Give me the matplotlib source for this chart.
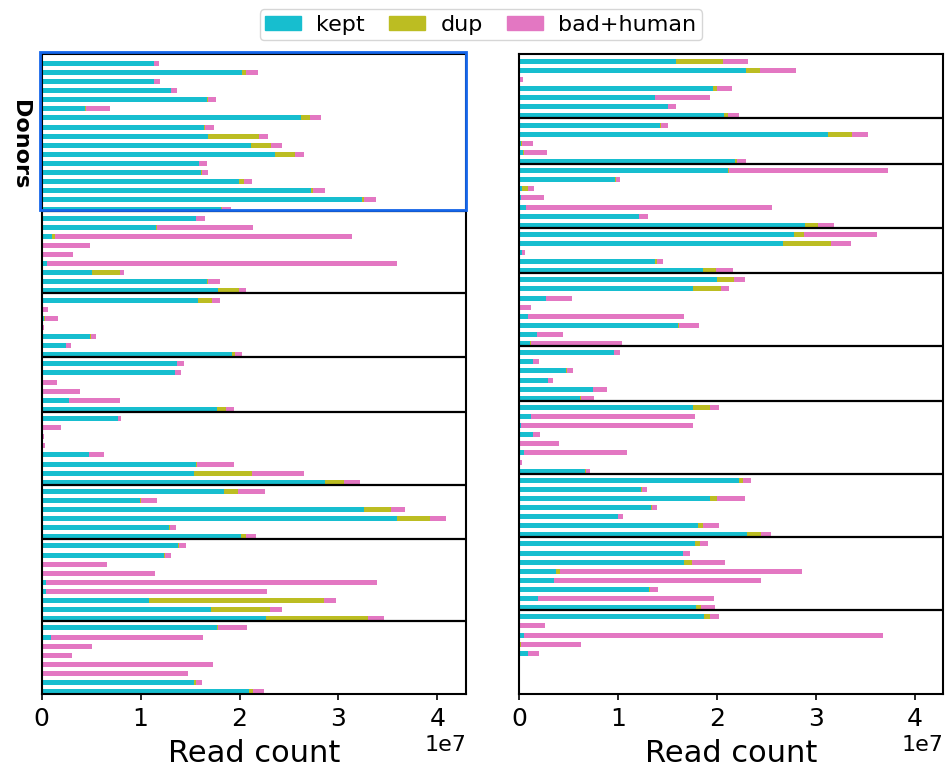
import numpy as np
import matplotlib
matplotlib.use("Agg")
import matplotlib.pyplot as plt
from matplotlib.patches import Rectangle, Patch
import matplotlib.transforms as mtransforms

# ---------------- data (values in units of 1e7 reads) ----------------
left_kept = [1.137, 2.027, 1.137, 1.312, 1.673, 0.442, 2.624, 1.642, 1.683, 2.118,
             2.361, 1.592, 1.612, 1.997, 2.725, 3.241, 1.815,
             1.562, 1.157, 0.105, 0.0, 0.0, 0.054, 0.509, 1.673, 1.784,
             1.582, 0.0, 0.020, 0.013, 0.489, 0.246, 1.926,
             1.369, 1.349, 0.0, 0.0, 0.277, 1.774,
             0.772, 0.013, 0.0, 0.0, 0.479, 1.562, 1.541, 2.867,
             1.845, 0.995, 3.261, 3.595, 1.292, 2.017,
             1.379, 1.238, 0.0, 0.0, 0.044, 0.044, 1.086, 1.713, 2.270,
             1.774, 0.094, 0.0, 0.0, 0.013, 0.013, 1.541, 2.098]
left_dup = [0.0, 0.040, 0.0, 0.0, 0.010, 0.010, 0.091, 0.011, 0.516, 0.202,
            0.202, 0.0, 0.010, 0.050, 0.020, 0.020, 0.010,
            0.0, 0.010, 0.030, 0.0, 0.0, 0.0, 0.284, 0.010, 0.213,
            0.141, 0.0, 0.010, 0.0, 0.010, 0.0, 0.030,
            0.0, 0.0, 0.0, 0.0, 0.0, 0.091,
            0.0, 0.0, 0.0, 0.0, 0.0, 0.010, 0.587, 0.192,
            0.142, 0.010, 0.274, 0.334, 0.006, 0.050,
            0.011, 0.010, 0.0, 0.0, 0.0, 0.0, 1.771, 0.597, 1.032,
            0.007, 0.0, 0.0, 0.0, 0.0, 0.0, 0.021, 0.040]
left_bad = [0.050, 0.122, 0.060, 0.057, 0.081, 0.239, 0.111, 0.091, 0.091, 0.112,
            0.091, 0.081, 0.061, 0.081, 0.122, 0.122, 0.091,
            0.091, 0.971, 3.005, 0.489, 0.317, 3.541, 0.040, 0.121, 0.070,
            0.081, 0.064, 0.135, 0.011, 0.051, 0.051, 0.071,
            0.071, 0.061, 0.155, 0.388, 0.516, 0.081,
            0.031, 0.183, 0.024, 0.034, 0.152, 0.374, 0.526, 0.162,
            0.273, 0.162, 0.141, 0.162, 0.061, 0.102,
            0.070, 0.061, 0.661, 1.147, 3.349, 2.236, 0.121, 0.122, 0.162,
            0.297, 1.538, 0.509, 0.307, 1.721, 1.468, 0.060, 0.112]
left_groups = [17, 9, 7, 6, 8, 6, 9, 8]

right_kept = [1.589, 2.297, 0.005, 1.963, 1.376, 1.508, 2.074,
              1.427, 3.126, 0.017, 0.040, 2.186,
              2.115, 0.971, 0.030, 0.017, 0.071, 1.214, 2.894,
              2.782, 2.671, 0.030, 1.376, 1.862,
              2.003, 1.761, 0.273, 0.007, 0.091, 1.609, 0.182, 0.111,
              0.961, 0.142, 0.476, 0.293, 0.749, 0.617,
              1.761, 0.121, 0.017, 0.142, 0.010, 0.051, 0.010, 0.668,
              2.226, 1.234, 1.933, 1.336, 1.002, 1.811, 2.307,
              1.781, 1.659, 1.669, 0.374, 0.354, 1.315, 0.192, 1.791,
              1.872, 0.010, 0.051, 0.010, 0.091]
right_dup = [0.475, 0.141, 0.0, 0.040, 0.0, 0.0, 0.041,
             0.006, 0.243, 0.013, 0.011, 0.016,
             0.006, 0.010, 0.061, 0.0, 0.0, 0.0, 0.131,
             0.102, 0.486, 0.0, 0.020, 0.131,
             0.172, 0.283, 0.0, 0.006, 0.0, 0.010, 0.0, 0.010,
             0.0, 0.0, 0.010, 0.0, 0.0, 0.010,
             0.172, 0.0, 0.0, 0.0, 0.0, 0.0, 0.0, 0.010,
             0.040, 0.011, 0.070, 0.010, 0.0, 0.051, 0.142,
             0.050, 0.0, 0.081, 0.041, 0.0, 0.010, 0.0, 0.050,
             0.061, 0.0, 0.0, 0.010, 0.0]
right_bad = [0.253, 0.365, 0.035, 0.152, 0.557, 0.081, 0.111,
             0.075, 0.162, 0.112, 0.232, 0.095,
             1.613, 0.041, 0.061, 0.236, 2.489, 0.091, 0.162,
             0.738, 0.202, 0.031, 0.061, 0.172,
             0.112, 0.081, 0.263, 0.108, 1.578, 0.202, 0.263, 0.921,
             0.061, 0.060, 0.060, 0.051, 0.141, 0.132,
             0.091, 1.660, 1.744, 0.070, 0.395, 1.042, 0.020, 0.040,
             0.081, 0.050, 0.284, 0.050, 0.050, 0.162, 0.101,
             0.081, 0.071, 0.334, 2.448, 2.095, 0.081, 1.781, 0.142,
             0.091, 0.253, 3.632, 0.607, 0.111]
right_groups = [7, 5, 7, 5, 8, 6, 8, 7, 8, 5]

series_labels = ["kept", "dup", "bad+human"]
x_ticks = [0, 1, 2, 3, 4]
highlight_label = "Donors"
highlight_rows = 17

# ---------------- style ----------------
C_KEPT, C_DUP, C_BAD = "#17becf", "#bcbd22", "#e377c2"
SCALE = 1e7
XMAX = 4.29e7
BAR_H = 0.55

fig = plt.figure(figsize=(9.52, 7.68), dpi=100)
axL = fig.add_axes([0.0438, 0.0964, 0.4457, 0.8329])
axR = fig.add_axes([0.5452, 0.0964, 0.4457, 0.8329])


def draw(ax, kept, dup, bad, groups, ylim):
    k = np.array(kept) * SCALE
    d = np.array(dup) * SCALE
    b = np.array(bad) * SCALE
    y = np.arange(len(k))
    ax.barh(y, k, height=BAR_H, color=C_KEPT, linewidth=0)
    ax.barh(y, d, left=k, height=BAR_H, color=C_DUP, linewidth=0)
    ax.barh(y, b, left=k + d, height=BAR_H, color=C_BAD, linewidth=0)
    for e in np.cumsum(groups)[:-1]:
        ax.axhline(e - 1 + 0.27, color="black", lw=1.6, zorder=3)
    ax.set_ylim(*ylim)
    ax.set_yticks([])
    ax.set_xlim(0, XMAX)
    ax.set_xticks([t * SCALE for t in x_ticks])
    ax.tick_params(axis="x", labelsize=18, length=4.5, width=1.2, color="black", pad=5)
    ax.xaxis.get_offset_text().set_fontsize(16)
    ax.set_xlabel("Read count", fontsize=22, labelpad=6)
    for s in ax.spines.values():
        s.set_color("black")
        s.set_linewidth(1.5)


draw(axL, left_kept, left_dup, left_bad, left_groups, (69.25, -0.99))
draw(axR, right_kept, right_dup, right_bad, right_groups, (69.47, -0.77))

# highlight rectangle around first group
trans = mtransforms.blended_transform_factory(axL.transAxes, axL.transData)
top = -1.2
bottom = highlight_rows - 1 + 0.15
axL.add_patch(Rectangle((-0.004, top), 1.004, bottom - top, transform=trans,
                        fill=False, edgecolor="#1566ea", lw=2.0, clip_on=False, zorder=5))
fig.text(20 / 952, 1 - 145 / 768, highlight_label, rotation=-90, fontsize=16,
         fontweight="bold", ha="center", va="center")

handles = [Patch(color=C_KEPT), Patch(color=C_DUP), Patch(color=C_BAD)]
fig.legend(handles, series_labels, loc="upper center", bbox_to_anchor=(0.505, 0.988),
           borderaxespad=0, borderpad=0.25, ncol=3, fontsize=16, handlelength=1.6,
           handleheight=0.6, handletextpad=0.7, columnspacing=1.1, frameon=True)

fig.savefig("out.png", dpi=100)
